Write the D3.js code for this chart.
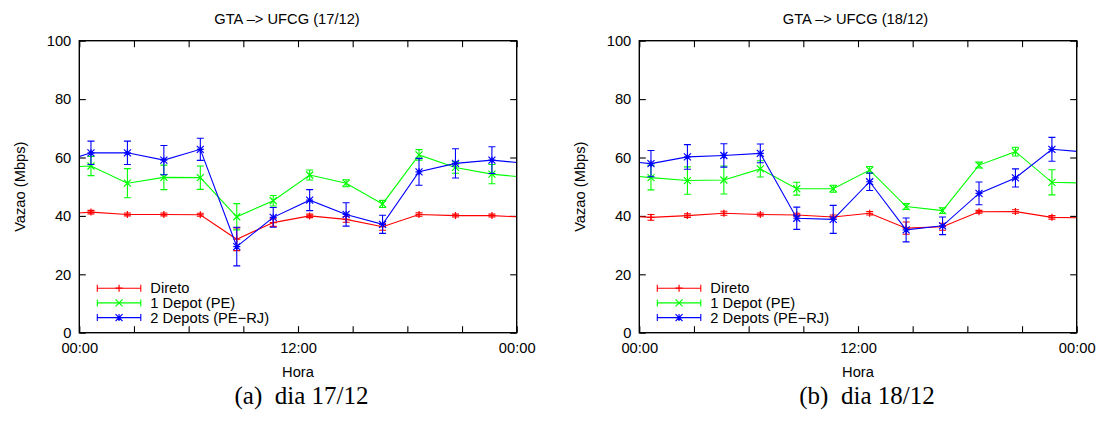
<!DOCTYPE html>
<html>
<head>
<meta charset="utf-8">
<script src="https://cdn.jsdelivr.net/npm/d3@7"></script>
<style>
  html, body { margin: 0; padding: 0; background: #fff; }
  svg { display: block; }
  text { font-family: "Liberation Sans", Arial, sans-serif; fill: #000; }
  .cap { font-family: "Liberation Serif", "Times New Roman", serif; white-space: pre; }
</style>
</head>
<body>
<svg id="chart" width="1098" height="423"></svg>
<script>
// Measurement times (hours) — includes the neighbouring-day points at each end
const hours = [-1.36, 0.64, 2.64, 4.64, 6.64, 8.64, 10.64, 12.64, 14.64, 16.64, 18.64, 20.64, 22.64, 24.64];
const seriesNames = ["Direto", "1 Depot (PE)", "2 Depots (PE\u2212RJ)"];
const xTickValues = [0, 3, 6, 9, 12, 15, 18, 21, 24];
const xTickLabels = ["00:00", "", "", "", "12:00", "", "", "", "00:00"];
const yTickValues = [0, 20, 40, 60, 80, 100];

// Day 17/12
const direto17 = [40.4, 41.3, 40.5, 40.5, 40.4, 32.0, 37.7, 40.0, 38.8, 36.3, 40.5, 40.1, 40.1, 39.5];
const diretoErr17 = [0.5, 0.6, 0.5, 0.5, 0.5, 3.9, 1.3, 0.6, 1.0, 1.2, 0.6, 0.5, 0.5, 0.7];
const depot1_17 = [56.5, 57.1, 51.2, 53.2, 53.1, 39.7, 45.2, 54.0, 51.2, 44.1, 60.9, 56.6, 54.3, 53.1];
const depot1Err17 = [2.0, 3.3, 5.0, 4.2, 4.0, 4.5, 1.8, 1.7, 1.2, 1.2, 1.8, 2.0, 3.3, 4.2];
const depot2_17 = [57.6, 61.6, 61.6, 59.1, 62.8, 29.5, 39.5, 45.4, 40.5, 37.1, 55.1, 58.0, 59.1, 57.9];
const depot2Err17 = [4.0, 4.0, 4.0, 5.0, 3.8, 6.6, 3.4, 3.6, 4.0, 3.1, 4.6, 5.0, 4.6, 4.5];

// Day 18/12
const direto18 = [40.1, 39.5, 40.1, 40.9, 40.5, 40.3, 39.6, 40.9, 35.8, 36.3, 41.4, 41.5, 39.5, 39.3];
const diretoErr18 = [0.5, 1.0, 0.6, 0.7, 0.5, 0.6, 0.7, 0.6, 2.1, 1.2, 0.5, 0.6, 0.6, 0.5];
const depot1_18 = [54.3, 53.1, 52.1, 52.3, 56.1, 49.3, 49.3, 55.7, 43.2, 41.8, 57.4, 62.0, 51.5, 51.2];
const depot1Err18 = [3.3, 4.2, 4.7, 4.8, 2.8, 2.2, 1.2, 1.2, 1.0, 1.0, 1.0, 1.5, 4.3, 2.0];
const depot2_18 = [59.1, 57.9, 60.2, 60.7, 61.4, 39.2, 38.8, 51.7, 35.2, 36.6, 47.7, 53.0, 62.8, 61.8];
const depot2Err18 = [4.6, 4.5, 4.2, 4.0, 3.2, 3.8, 4.8, 3.0, 4.1, 3.0, 3.9, 3.1, 4.1, 4.0];

const colors = ["#ff0000", "#00ff00", "#0000ff"];
const markers = ["plus", "cross", "star"];

const svg = d3.select("#chart");
const W = 437.4, H = 292;

function marker(g, type, cx, cy, color, s) {
  const p = d3.path();
  if (type === "plus" || type === "star") {
    p.moveTo(cx - s, cy); p.lineTo(cx + s, cy);
    p.moveTo(cx, cy - s); p.lineTo(cx, cy + s);
  }
  if (type === "cross" || type === "star") {
    p.moveTo(cx - s, cy - s); p.lineTo(cx + s, cy + s);
    p.moveTo(cx - s, cy + s); p.lineTo(cx + s, cy - s);
  }
  g.append("path").attr("d", p.toString()).attr("stroke", color).attr("stroke-width", 1.2).attr("fill", "none");
}

function drawChart(id, ox, oy, title, titleX, caption, captionX, series) {
  const x = d3.scaleLinear().domain([0, 24]).range([0, W]);
  const y = d3.scaleLinear().domain([0, 100]).range([H, 0]);
  const g = svg.append("g").attr("transform", `translate(${ox},${oy})`);

  svg.append("defs").append("clipPath").attr("id", "clip" + id)
    .append("rect").attr("x", 0).attr("y", 0).attr("width", W).attr("height", H);

  // axes (ticks inward, mirrored)
  const tick = 6.5;
  const fmtX = (d, i) => xTickLabels[i];
  const xb = g.append("g").attr("transform", `translate(0,${H})`)
    .call(d3.axisBottom(x).tickValues(xTickValues).tickFormat(fmtX).tickSize(-tick).tickPadding(10));
  const xt = g.append("g")
    .call(d3.axisTop(x).tickValues(xTickValues).tickFormat("").tickSize(-tick));
  const yl = g.append("g")
    .call(d3.axisLeft(y).tickValues(yTickValues).tickSize(-tick).tickPadding(8));
  const yr = g.append("g").attr("transform", `translate(${W},0)`)
    .call(d3.axisRight(y).tickValues(yTickValues).tickFormat("").tickSize(-tick));
  [xb, xt, yl, yr].forEach(a => {
    a.select(".domain").remove();
    a.selectAll("line").attr("stroke", "#000").attr("stroke-width", 1.1);
    a.selectAll("text").style("font-family", '"Liberation Sans", Arial, sans-serif')
      .style("font-size", "14.7px").attr("fill", "#000");
  });

  // series
  const plot = g.append("g").attr("clip-path", `url(#clip${id})`);
  series.forEach((s, k) => {
    const pts = hours.map((h, i) => ({ h, v: s.values[i], e: s.errs[i] }));
    const line = d3.line().x(d => x(d.h)).y(d => y(d.v));
    plot.append("path").datum(pts).attr("d", line)
      .attr("fill", "none").attr("stroke", colors[k]).attr("stroke-width", 1.1);
    pts.forEach(d => {
      const cx = x(d.h);
      const p = d3.path();
      p.moveTo(cx, y(d.v - d.e)); p.lineTo(cx, y(d.v + d.e));
      p.moveTo(cx - 3.5, y(d.v + d.e)); p.lineTo(cx + 3.5, y(d.v + d.e));
      p.moveTo(cx - 3.5, y(d.v - d.e)); p.lineTo(cx + 3.5, y(d.v - d.e));
      plot.append("path").attr("d", p.toString()).attr("stroke", colors[k])
        .attr("stroke-width", 1.1).attr("fill", "none");
      marker(plot, markers[k], cx, y(d.v), colors[k], 3.5);
    });
  });

  // border
  g.append("rect").attr("x", 0).attr("y", 0).attr("width", W).attr("height", H)
    .attr("fill", "none").attr("stroke", "#000").attr("stroke-width", 1.4);

  // legend
  const lg = g.append("g");
  seriesNames.forEach((name, k) => {
    const ly = 247.5 + k * 14.7;
    const x0 = 18, x1 = 61.5, xm = (x0 + x1) / 2;
    const p = d3.path();
    p.moveTo(x0, ly); p.lineTo(x1, ly);
    p.moveTo(x0, ly - 3.5); p.lineTo(x0, ly + 3.5);
    p.moveTo(x1, ly - 3.5); p.lineTo(x1, ly + 3.5);
    lg.append("path").attr("d", p.toString()).attr("stroke", colors[k]).attr("stroke-width", 1.1).attr("fill", "none");
    marker(lg, markers[k], xm, ly, colors[k], 3.5);
    lg.append("text").attr("x", 71).attr("y", ly + 5.2).style("font-size", "14.7px").text(name);
  });

  // title & labels
  svg.append("text").attr("x", titleX).attr("y", 24).attr("text-anchor", "middle")
    .style("font-size", "14.7px").text(title);
  svg.append("text").attr("x", ox + W / 2).attr("y", 377).attr("text-anchor", "middle")
    .style("font-size", "14.7px").text("Hora");
  svg.append("text").attr("transform", `translate(${ox - 54},${oy + H / 2}) rotate(-90)`)
    .attr("text-anchor", "middle").style("font-size", "14.7px").text("Vazao (Mbps)");
  svg.append("text").attr("class", "cap").attr("x", captionX).attr("y", 404)
    .attr("text-anchor", "middle").style("font-size", "25px").text(caption);
}

drawChart("a", 79.3, 40.7, "GTA \u2013> UFCG (17/12)", 287, "(a)  dia 17/12", 301.5,
  [{ values: direto17, errs: diretoErr17 }, { values: depot1_17, errs: depot1Err17 }, { values: depot2_17, errs: depot2Err17 }]);
drawChart("b", 639.3, 40.7, "GTA \u2013> UFCG (18/12)", 855.5, "(b)  dia 18/12", 867,
  [{ values: direto18, errs: diretoErr18 }, { values: depot1_18, errs: depot1Err18 }, { values: depot2_18, errs: depot2Err18 }]);
</script>
</body>
</html>
